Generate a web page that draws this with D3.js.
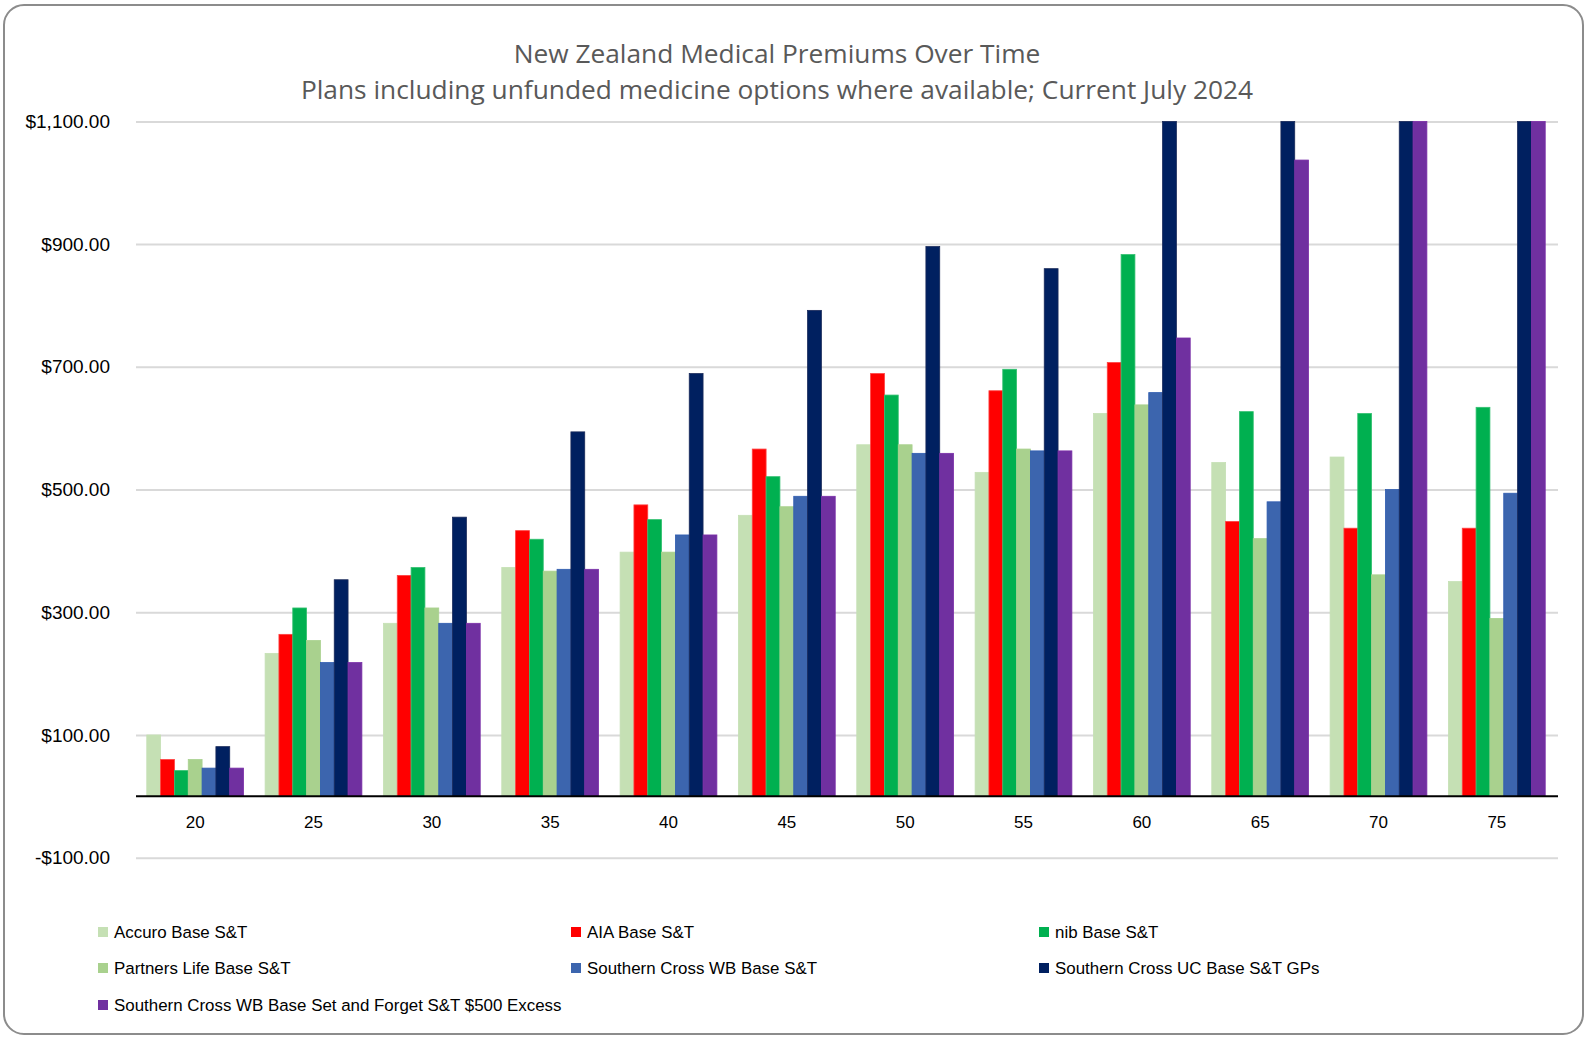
<!DOCTYPE html>
<html>
<head>
<meta charset="utf-8">
<script src="https://cdn.jsdelivr.net/npm/d3@7"></script>
<style>
  html, body { margin: 0; padding: 0; background: #fff; }
  svg { display: block; }
</style>
</head>
<body>
<svg id="chart" width="1590" height="1040"></svg>
<script>
// ---- data ----
const ages = ["20", "25", "30", "35", "40", "45", "50", "55", "60", "65", "70", "75"];
const seriesNames = [
  "Accuro Base S&T",
  "AIA Base S&T",
  "nib Base S&T",
  "Partners Life Base S&T",
  "Southern Cross WB Base S&T",
  "Southern Cross UC Base S&T GPs",
  "Southern Cross WB Base Set and Forget S&T $500 Excess"
];
const accuro   = [100, 233, 282, 373, 398, 458, 573, 528, 624, 544, 553, 350];
const aia      = [60, 264, 360, 433, 475, 566, 689, 661, 707, 448, 437, 437];
const nib      = [42, 307, 373, 419, 451, 521, 654, 696, 883, 627, 624, 634];
const partners = [60, 254, 307, 367, 398, 472, 573, 566, 638, 420, 361, 290];
const scWB     = [46, 218, 282, 370, 426, 489, 559, 563, 658, 480, 500, 494];
const scUC     = [81, 353, 455, 594, 689, 792, 896, 860, 1180, 1330, 1480, 1620];
const scSetForget = [46, 218, 282, 370, 426, 489, 559, 563, 747, 1037, 1240, 1390];
const yTicks = [-100, 100, 300, 500, 700, 900, 1100];
const titleLines = [
  "New Zealand Medical Premiums Over Time",
  "Plans including unfunded medicine options where available; Current July 2024"
];
const colors = ["#C5E0B4", "#FF0000", "#00B050", "#A9D18E", "#3C65AE", "#002060", "#7030A0"];
const strokes = ["#C5E0B4", "#FF4040", "#33C070", "#A9D18E", "#2F5CB0", "#1a2a5a", "#7A2EA8"];

const allSeries = [accuro, aia, nib, partners, scWB, scUC, scSetForget];
const rows = ages.map((a, i) => ({ age: a, values: allSeries.map((s, k) => ({ key: seriesNames[k], k, v: s[i] })) }));

// ---- layout ----
const svg = d3.select("#chart");
const plotL = 136, plotR = 1556;
const fontMain = "'Liberation Sans', Arial, sans-serif";

svg.append("rect")
  .attr("x", 4).attr("y", 5).attr("width", 1579).attr("height", 1029)
  .attr("rx", 20).attr("ry", 20)
  .attr("fill", "#fff").attr("stroke", "#8c8c8c").attr("stroke-width", 2);

const y = d3.scaleLinear().domain([-100, 1100]).range([857.7, 121.4]).clamp(true);
const x0 = d3.scaleBand().domain(ages).range([plotL, plotR]).paddingInner(0).paddingOuter(0);
const x1 = d3.scaleBand().domain(d3.range(seriesNames.length)).range([0, x0.bandwidth()]).paddingInner(0).paddingOuter(0.78);

const loc = d3.formatLocale({ decimal: ".", thousands: ",", grouping: [3], currency: ["$", ""], minus: "-" });
const fmt = loc.format("$,.2f");

// gridlines + y labels
const yAxis = svg.append("g")
  .attr("transform", `translate(${plotL},0)`)
  .call(d3.axisLeft(y).tickValues(yTicks).tickFormat(fmt).tickSize(-(plotR - plotL + 2)).tickPadding(26));
yAxis.select(".domain").remove();
yAxis.selectAll(".tick line").attr("stroke", "#D9D9D9").attr("stroke-width", 2);
yAxis.selectAll(".tick text").attr("fill", "#000").style("font-family", fontMain).style("font-size", "19px");

// bars
const groups = svg.append("g").selectAll("g").data(rows).join("g")
  .attr("transform", d => `translate(${x0(d.age)},0)`);
groups.selectAll("rect").data(d => d.values).join("rect")
  .attr("x", d => x1(d.k))
  .attr("width", x1.bandwidth())
  .attr("y", d => y(Math.max(0, d.v)))
  .attr("height", d => Math.abs(y(0) - y(d.v)))
  .attr("fill", d => colors[d.k])
  .attr("stroke", d => strokes[d.k])
  .attr("stroke-width", 0.8);

// baseline
svg.append("line")
  .attr("x1", plotL).attr("x2", plotR + 2)
  .attr("y1", y(0)).attr("y2", y(0))
  .attr("stroke", "#000").attr("stroke-width", 2);

// x labels
const xAxis = svg.append("g")
  .attr("transform", `translate(0,${y(0)})`)
  .call(d3.axisBottom(x0).tickSize(0).tickPadding(20));
xAxis.select(".domain").remove();
xAxis.selectAll(".tick text").attr("fill", "#000").style("font-family", fontMain).style("font-size", "17px");

// title
svg.append("g").selectAll("text").data(titleLines).join("text")
  .attr("x", 777).attr("y", (d, i) => 63 + i * 36)
  .attr("text-anchor", "middle")
  .attr("fill", "#595959")
  .style("font-family", "'Open Sans', sans-serif")
  .style("font-size", "26.3px")
  .text(d => d);

// legend
const legX = [98, 571, 1039];
const legY = [932, 968, 1005];
const leg = svg.append("g").selectAll("g").data(seriesNames).join("g")
  .attr("transform", (d, i) => `translate(${legX[i % 3]},${legY[Math.floor(i / 3)]})`);
leg.append("rect").attr("x", 0).attr("y", -5).attr("width", 10).attr("height", 10)
  .attr("fill", (d, i) => colors[i]);
leg.append("text").attr("x", 16).attr("y", 0).attr("dy", "0.35em")
  .attr("fill", "#000")
  .style("font-family", fontMain).style("font-size", "16.9px")
  .text(d => d);
</script>
</body>
</html>
